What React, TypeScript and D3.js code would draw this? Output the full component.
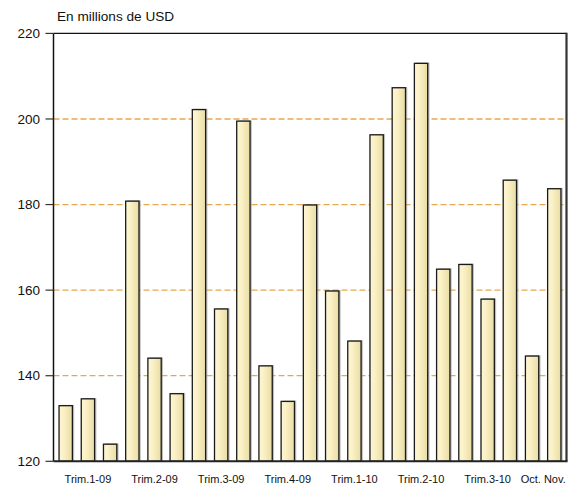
import React from "react";
import * as d3 from "d3";

const values: number[] = [
  133.0, 134.6, 124.0,
  180.8, 144.1, 135.8,
  202.2, 155.6, 199.5,
  142.3, 134.0, 179.9,
  159.8, 148.1, 196.3,
  207.3, 213.0, 164.9,
  166.0, 157.9, 185.7,
  144.6, 183.7,
];

const groupLabels: string[] = [
  "Trim.1-09", "Trim.2-09", "Trim.3-09", "Trim.4-09",
  "Trim.1-10", "Trim.2-10", "Trim.3-10", "Oct. Nov.",
];
// index range (first,last bar) for each label
const groupStart: number[] = [0, 3, 6, 9, 12, 15, 18, 21];
const groupEnd: number[] = [2, 5, 8, 11, 14, 17, 20, 22];

const yTicks: number[] = [120, 140, 160, 180, 200, 220];
const gridTicks: number[] = [140, 160, 180, 200];
const title = "En millions de USD";

const W = 573;
const H = 486;
const left = 53.5;
const right = 566.5;
const top = 33.4;
const bottom = 461.3;

export default function App() {
  const x = d3
    .scaleBand<number>()
    .domain(d3.range(values.length))
    .range([left, right])
    .paddingInner(0.4)
    .paddingOuter(0.25);
  const y = d3.scaleLinear().domain([120, 220]).range([bottom, top]);
  const bw = x.bandwidth();

  return (
    <svg
      width={W}
      height={H}
      style={{ position: "absolute", left: 0, top: 0, background: "#fff" }}
      fontFamily="'Liberation Sans', Arial, sans-serif"
    >
      <defs>
        <linearGradient id="barGrad" x1="0" x2="1" y1="0" y2="0">
          <stop offset="0" stopColor="#fdf6d4" />
          <stop offset="0.35" stopColor="#fbf1c6" />
          <stop offset="1" stopColor="#e9dca4" />
        </linearGradient>
      </defs>
      <text x={57} y={20.5} fontSize={13.6} fill="#111">
        {title}
      </text>
      {gridTicks.map((t) => (
        <line
          key={"g" + t}
          x1={left}
          x2={right}
          y1={y(t)}
          y2={y(t)}
          stroke="#e29a2e"
          strokeOpacity={0.85}
          strokeWidth={1.3}
          strokeDasharray="6,3"
        />
      ))}
      {values.map((v, i) => (
        <g key={"b" + i}>
          <rect
            x={(x(i) as number) + 1.8}
            y={y(v) - 0.8}
            width={bw}
            height={bottom - y(v) + 0.8}
            fill="#8a8a8a"
            opacity={0.55}
          />
          <rect
            x={x(i) as number}
            y={y(v)}
            width={bw}
            height={bottom - y(v)}
            fill="url(#barGrad)"
            stroke="#1a1a1a"
            strokeWidth={1.3}
          />
        </g>
      ))}
      {/* frame */}
      <line x1={left} x2={right} y1={top} y2={top} stroke="#111" strokeWidth={1.3} />
      <line x1={left} x2={left} y1={top} y2={bottom} stroke="#111" strokeWidth={1.5} />
      <line x1={right} x2={right} y1={top - 0.6} y2={bottom} stroke="#333" strokeWidth={2.2} />
      <line x1={left} x2={right + 1} y1={bottom} y2={bottom} stroke="#222" strokeWidth={2} />
      {yTicks.map((t) => (
        <g key={"t" + t}>
          <line x1={45.5} x2={left} y1={y(t)} y2={y(t)} stroke="#333" strokeWidth={1.2} />
          <text
            x={40}
            y={y(t)}
            dy="0.35em"
            textAnchor="end"
            fontSize={13.5}
            fill="#111"
          >
            {t}
          </text>
        </g>
      ))}
      {groupLabels.map((lab, k) => {
        const a = (x(groupStart[k]) as number) + bw / 2;
        const b = (x(groupEnd[k]) as number) + bw / 2;
        return (
          <text
            key={"l" + k}
            x={(a + b) / 2}
            y={482.5}
            textAnchor="middle"
            fontSize={11}
            fill="#111"
          >
            {lab}
          </text>
        );
      })}
    </svg>
  );
}
